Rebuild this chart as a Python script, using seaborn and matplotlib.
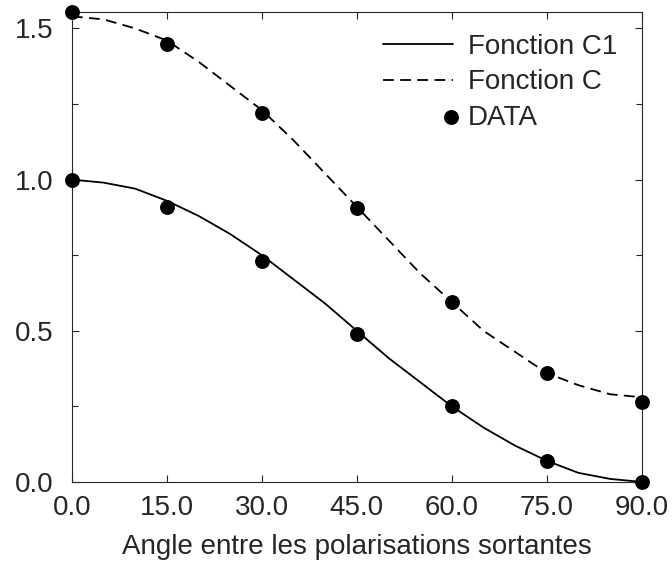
import numpy as np
import pandas as pd
import matplotlib
matplotlib.use('Agg')
import matplotlib.pyplot as plt
import seaborn as sns
from matplotlib.ticker import MultipleLocator, FormatStrFormatter
from matplotlib.legend_handler import HandlerPathCollection

# measured points
angles = [0, 15, 30, 45, 60, 75, 90]
data_c1 = [1.0, 0.91, 0.73, 0.49, 0.25, 0.07, 0.0]
data_c = [1.555, 1.45, 1.22, 0.905, 0.595, 0.36, 0.265]

curve_angles = list(range(0, 95, 5))
curve_c1 = [1.0, 0.99, 0.97, 0.93, 0.88, 0.82, 0.75, 0.67, 0.59, 0.50,
            0.41, 0.33, 0.25, 0.18, 0.12, 0.07, 0.03, 0.01, 0.0]
curve_c = [1.54, 1.53, 1.50, 1.46, 1.39, 1.31, 1.23, 1.13, 1.02, 0.91,
           0.80, 0.69, 0.595, 0.50, 0.43, 0.36, 0.32, 0.29, 0.28]

sns.set_style('ticks')
plt.rcParams['font.family'] = ['Liberation Sans', 'DejaVu Sans']
plt.rcParams['font.size'] = 20


# put the DATA marker at the right end of the legend handle
class RightMarker(HandlerPathCollection):
    def get_xdata(self, legend, xdescent, ydescent, width, height, fontsize):
        x = [-xdescent + width - 0.07 * fontsize]
        return x, x


curves = pd.DataFrame({'angle': curve_angles * 2,
                       'value': curve_c1 + curve_c,
                       'serie': ['Fonction C1'] * len(curve_c1) + ['Fonction C'] * len(curve_c)})
points = pd.DataFrame({'angle': angles * 2, 'value': data_c1 + data_c})

fig = plt.figure(figsize=(6.72, 5.63), dpi=100)
ax = fig.add_axes([0.107, 0.144, 0.848, 0.835])

sns.lineplot(data=curves, x='angle', y='value', style='serie', color='black',
             dashes={'Fonction C1': '', 'Fonction C': (6, 3.5)},
             linewidth=1.3, ax=ax, legend=False)
ax.lines[0].set_label('Fonction C1')
ax.lines[1].set_label('Fonction C')
sns.scatterplot(data=points, x='angle', y='value', color='black', s=115,
                edgecolor='black', linewidth=0, ax=ax, clip_on=False,
                label='DATA', zorder=5)

ax.set_xlim(0, 90)
ax.set_ylim(0, 1.555)
ax.xaxis.set_major_locator(MultipleLocator(15))
ax.xaxis.set_major_formatter(FormatStrFormatter('%.1f'))
ax.yaxis.set_major_locator(MultipleLocator(0.5))
ax.yaxis.set_minor_locator(MultipleLocator(0.25))
ax.yaxis.set_major_formatter(FormatStrFormatter('%.1f'))
ax.tick_params(which='both', direction='in', top=True, right=True, width=0.8)
ax.tick_params(which='major', length=5)
ax.tick_params(which='minor', length=4)
ax.tick_params(axis='x', pad=9.5)
ax.tick_params(axis='y', pad=13)
for s in ax.spines.values():
    s.set_linewidth(0.8)

ax.set_xlabel('Angle entre les polarisations sortantes', labelpad=9)
ax.set_ylabel('')

handles, labels = ax.get_legend_handles_labels()
sc = [h for h in handles if not isinstance(h, matplotlib.lines.Line2D)]
ax.legend(handles, labels, loc='upper right', frameon=False,
          handlelength=2.5, handletextpad=0.55, labelspacing=0.33,
          borderaxespad=0, bbox_to_anchor=(0.977, 0.976),
          scatterpoints=1, handler_map={h: RightMarker() for h in sc})

fig.savefig('out.png', dpi=100)
